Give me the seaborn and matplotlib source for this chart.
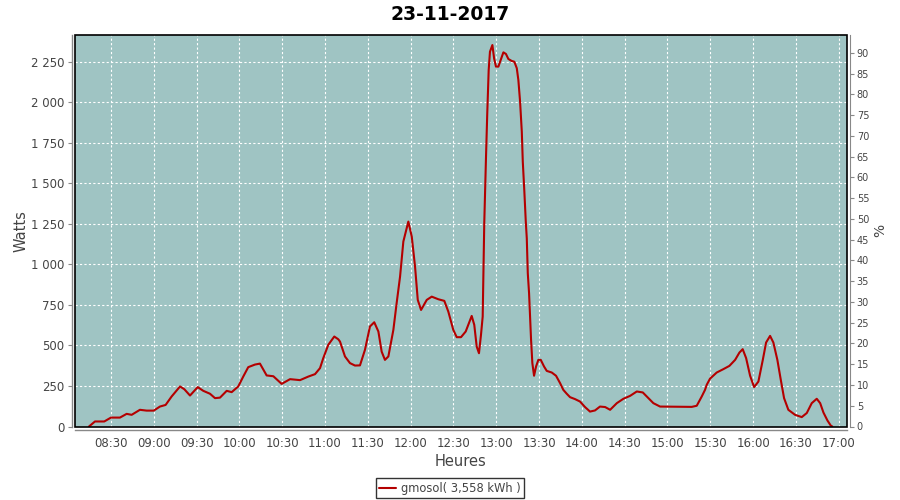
import matplotlib
matplotlib.use("Agg")
import matplotlib.pyplot as plt
import matplotlib.dates as mdates
from matplotlib.patches import Rectangle
from matplotlib.ticker import FuncFormatter, MultipleLocator
import pandas as pd
import seaborn as sns

# ─────────────────────────────────────────────
# DONNEES
# ─────────────────────────────────────────────
DAY = "2017-11-23"
TITLE = "23-11-2017"
SERIES_LABEL = "gmosol( 3,558 kWh )"

heures = [
    "08:14:36", "08:18:48", "08:25:18", "08:30:00", "08:36:18", "08:41:00", "08:44:30",
    "08:50:18", "08:55:00", "09:00:00", "09:04:18", "09:08:18", "09:12:30", "09:18:24",
    "09:21:24", "09:25:24", "09:30:48", "09:34:42", "09:39:24", "09:42:54", "09:46:24",
    "09:51:06", "09:54:36", "09:59:12", "10:02:42", "10:06:12", "10:10:54", "10:14:24",
    "10:19:06", "10:23:48", "10:29:36", "10:35:30", "10:42:30", "10:48:18", "10:53:00",
    "10:56:30", "10:58:48", "11:02:18", "11:06:30", "11:09:18", "11:10:30", "11:14:00",
    "11:17:30", "11:21:00", "11:24:30", "11:28:00", "11:31:30", "11:34:30", "11:37:24",
    "11:39:42", "11:42:00", "11:44:24", "11:47:54", "11:50:12", "11:52:36", "11:54:54",
    "11:58:24", "12:00:48", "12:03:06", "12:05:00", "12:07:18", "12:11:18", "12:14:48",
    "12:19:24", "12:23:36", "12:26:24", "12:29:54", "12:32:18", "12:35:18", "12:38:36",
    "12:42:48", "12:44:36", "12:46:18", "12:47:54", "12:49:18", "12:50:30", "12:51:00",
    "12:51:36", "12:52:06", "12:52:48", "12:53:42", "12:54:42", "12:55:36", "12:57:18",
    "12:58:30", "12:59:48", "13:01:30", "13:03:06", "13:05:00", "13:06:48", "13:08:30",
    "13:10:48", "13:12:42", "13:14:24", "13:15:30", "13:16:42", "13:17:54", "13:18:36",
    "13:19:42", "13:20:42", "13:21:24", "13:22:06", "13:23:00", "13:23:42", "13:24:24",
    "13:25:18", "13:26:30", "13:27:54", "13:29:30", "13:31:12", "13:33:30", "13:35:24",
    "13:38:54", "13:41:54", "13:44:42", "13:47:00", "13:49:24", "13:51:42", "13:55:12",
    "13:58:42", "14:02:12", "14:05:42", "14:09:12", "14:12:42", "14:16:18", "14:19:48",
    "14:24:30", "14:29:06", "14:33:48", "14:38:30", "14:42:42", "14:46:36", "14:50:06",
    "14:54:48", "15:04:06", "15:17:00", "15:20:30", "15:24:00", "15:26:18", "15:27:30",
    "15:29:48", "15:34:30", "15:39:12", "15:43:24", "15:47:24", "15:50:24", "15:52:42",
    "15:55:06", "15:57:54", "16:00:42", "16:03:42", "16:06:48", "16:09:06", "16:11:54",
    "16:14:12", "16:17:00", "16:19:24", "16:21:42", "16:24:42", "16:29:24", "16:34:06",
    "16:37:36", "16:41:06", "16:44:36", "16:47:00", "16:49:18", "16:52:06", "16:54:24",
    "16:55:30",
]

watts = [
    0, 31, 31, 55, 55, 78, 72,
    103, 98, 98, 123, 133, 185, 247,
    230, 191, 243, 220, 202, 175, 178,
    220, 212, 247, 308, 366, 382, 388,
    315, 310, 263, 292, 286, 308, 323,
    360, 422, 504, 555, 538, 524, 432,
    391, 376, 377, 473, 617, 643, 586,
    462, 411, 432, 596, 761, 925, 1141,
    1264, 1171, 986, 781, 719, 781, 801,
    785, 775, 709, 596, 551, 551, 586,
    682, 627, 493, 452, 565, 678, 946,
    1254, 1429, 1655, 1932, 2199, 2312, 2353,
    2271, 2220, 2220, 2261, 2308, 2298, 2267,
    2255, 2250, 2210, 2137, 2004, 1819, 1634,
    1449, 1264, 1161, 946, 822, 678, 535,
    391, 313, 370, 411, 411, 370, 343,
    333, 313, 268, 226, 202, 181, 169,
    154, 120, 92, 99, 123, 120, 103,
    144, 171, 189, 216, 210, 175, 144,
    123, 122, 121, 128, 185, 226, 257,
    295, 333, 354, 374, 411, 456, 477,
    422, 313, 243, 277, 411, 518, 559,
    518, 411, 288, 175, 103, 72, 58,
    83, 144, 171, 144, 86, 37, 6,
    0,
]

# axes
X_START, X_END = "08:04:48", "17:05:48"
W_MAX = 2415
PCT_MAX = 94.3
W_STEP = 250
PCT_STEP = 5

# ─────────────────────────────────────────────
# STYLE
# ─────────────────────────────────────────────
BG_PLOT = "#9fc4c3"
LINE_COL = "#b40000"
TICK_COL = "#444444"
AXIS_COL = "#888888"

sns.set_style("white")
plt.rcParams["font.family"] = ["DejaVu Sans"]

df = pd.DataFrame({
    "heure": pd.to_datetime([f"{DAY} {h}" for h in heures]),
    "watts": watts,
})

fig = plt.figure(figsize=(9, 5), dpi=100)
ax = fig.add_axes([75 / 900, 1 - 426.5 / 500, (847 - 75) / 900, (426.5 - 35) / 500])
ax.set_facecolor(BG_PLOT)

sns.lineplot(data=df, x="heure", y="watts", ax=ax, color=LINE_COL,
             linewidth=1.5, label=SERIES_LABEL)
if ax.get_legend() is not None:
    ax.get_legend().remove()

ax.set_xlim(pd.Timestamp(f"{DAY} {X_START}"), pd.Timestamp(f"{DAY} {X_END}"))
ax.set_ylim(0, W_MAX)

ax.xaxis.set_major_locator(mdates.MinuteLocator(byminute=[0, 30]))
ax.xaxis.set_major_formatter(mdates.DateFormatter("%H:%M"))
ax.yaxis.set_major_locator(MultipleLocator(W_STEP))
ax.yaxis.set_major_formatter(FuncFormatter(lambda v, p: f"{v:,.0f}".replace(",", " ")))

ax.grid(True, color="white", linestyle=(0, (2, 2)), linewidth=0.8)
ax.set_axisbelow(True)

# axes decales facon JFreeChart + cadre noir du plot
for side in ["top", "right"]:
    ax.spines[side].set_visible(False)
for side in ["left", "bottom"]:
    ax.spines[side].set_position(("outward", 2.5))
    ax.spines[side].set_color(AXIS_COL)
    ax.spines[side].set_linewidth(1)
ax.add_patch(Rectangle((0, 0), 1, 1, transform=ax.transAxes, fill=False,
                       edgecolor="black", linewidth=1.2, clip_on=False, zorder=5))

ax.tick_params(axis="both", which="major", direction="out", length=3,
               width=0.8, color=AXIS_COL, labelcolor=TICK_COL, labelsize=8.5, pad=2)
ax.set_xlabel("Heures", fontsize=10.5, color=TICK_COL, labelpad=3)
ax.set_ylabel("Watts", fontsize=10.5, color=TICK_COL, labelpad=2)

# axe secondaire en %
ax2 = ax.twinx()
ax2.set_ylim(0, PCT_MAX)
ax2.yaxis.set_major_locator(MultipleLocator(PCT_STEP))
for side in ["top", "left", "bottom"]:
    ax2.spines[side].set_visible(False)
ax2.spines["right"].set_position(("outward", 2))
ax2.spines["right"].set_color(AXIS_COL)
ax2.tick_params(axis="y", direction="out", length=3, width=0.8, color=AXIS_COL,
                labelcolor=TICK_COL, labelsize=7, pad=2)
ax2.set_ylabel("%", fontsize=10, color=TICK_COL, labelpad=3)

fig.suptitle(TITLE, fontsize=13.5, fontweight="bold", color="black", y=0.972, va="center")

handles, labels = ax.get_lines()[:1], [SERIES_LABEL]
leg = fig.legend(handles, labels, loc="lower center", bbox_to_anchor=(0.5, 0.004),
                 frameon=True, fancybox=False, fontsize=8.3, handlelength=1.5,
                 handletextpad=0.4, borderpad=0.3, borderaxespad=0)
leg.get_frame().set_edgecolor("black")
leg.get_frame().set_linewidth(1)
for t in leg.get_texts():
    t.set_color(TICK_COL)

fig.savefig("out.png", dpi=100)
